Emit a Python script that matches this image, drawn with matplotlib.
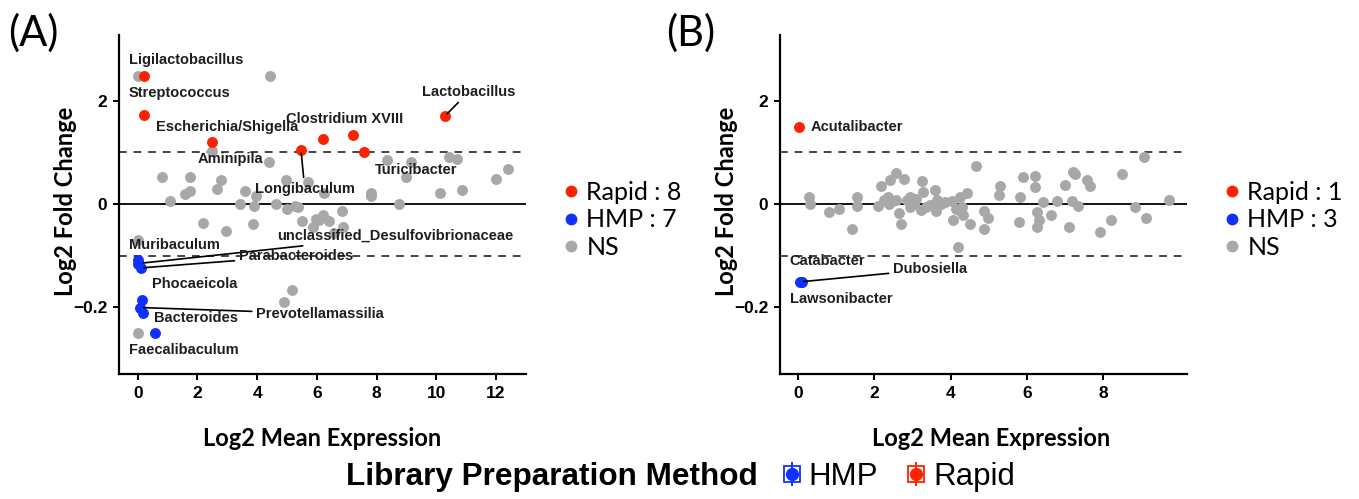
import matplotlib
matplotlib.use("Agg")
import matplotlib.pyplot as plt
from matplotlib.lines import Line2D
from matplotlib.legend_handler import HandlerTuple

W, H = 1359, 499
RED = "#FF2200"; BLUE = "#1030FF"; GRAY = "#A8A8A8"; TXT = "#1E1E1E"
CAL = ["Lato", "DejaVu Sans"]
ARI = ["Liberation Sans", "DejaVu Sans"]

# ---- panel A data (log2 mean expression, log2 fold change) ----
a_ns_x = [0.0, 4.43, 2.47, 4.4, 0.82, 1.75, 2.79, 2.67, 1.07, 1.57, 1.75, 3.58, 3.42, 3.9,
          3.96, 4.62, 4.95, 5.0, 5.28, 5.72, 6.25, 5.5, 5.87, 6.07, 6.22, 6.42, 6.58, 6.84,
          6.88, 2.19, 2.97, 3.86, 7.8, 7.83, 8.34, 9.16, 8.99, 8.77, 10.12, 10.43, 10.69,
          10.87, 12.02, 12.42, 0.0, 0.0, 5.17, 4.89, 5.36, 5.97]
a_ns_y = [2.49, 2.49, 1.02, 0.82, 0.53, 0.53, 0.46, 0.30, 0.06, 0.19, 0.26, 0.26, 0.0, -0.03,
          0.16, 0.0, 0.46, -0.1, -0.03, 0.42, 0.21, -0.33, -0.44, -0.32, -0.21, -0.33, -0.57,
          -0.14, -0.44, -0.37, -0.52, -0.39, 0.22, 0.16, 0.86, 0.81, 0.52, 0.0, 0.21, 0.92,
          0.87, 0.27, 0.49, 0.68, -0.7, -2.51, -1.66, -1.9, -0.05, -0.3]
a_rapid_x = [0.2, 0.2, 2.47, 5.47, 6.22, 7.2, 7.57, 10.3]
a_rapid_y = [2.49, 1.73, 1.2, 1.04, 1.26, 1.34, 1.0, 1.71]
a_hmp_x = [0.02, 0.0, 0.12, 0.14, 0.08, 0.17, 0.58]
a_hmp_y = [-1.09, -1.17, -1.24, -1.86, -2.01, -2.12, -2.51]

# ---- panel B data ----
b_ns_x = [0.29, 0.33, 0.81, 1.07, 1.42, 1.56, 1.56, 2.11, 2.18, 2.35, 2.42, 2.56, 2.77, 2.38,
          2.65, 2.69, 2.58, 2.87, 2.93, 3.04, 3.24, 3.28, 3.22, 3.37, 3.58, 3.65, 3.62, 3.76,
          4.03, 4.07, 4.2, 4.26, 4.3, 4.32, 4.44, 4.5, 4.67, 4.88, 4.98, 4.87, 5.27, 5.3,
          5.8, 5.83, 5.89, 6.2, 6.21, 6.27, 6.32, 6.27, 6.41, 6.62, 6.79, 6.99, 7.11, 7.18,
          7.2, 7.26, 7.34, 7.57, 7.64, 7.92, 8.19, 8.5, 8.83, 9.06, 9.12, 9.72,
          2.47, 3.1, 3.45, 4.15, 2.25, 2.95, 3.85, 4.22]
b_ns_y = [0.13, 0.0, -0.16, -0.10, -0.48, 0.13, -0.04, -0.04, 0.35, 0.14, 0.47, 0.6, 0.49, 0.0,
          -0.18, -0.39, 0.08, 0.08, 0.14, 0.0, 0.45, 0.23, -0.12, -0.05, 0.27, 0.08, -0.13, 0.0,
          0.06, -0.31, -0.83, 0.14, -0.05, -0.21, 0.21, -0.38, 0.74, -0.13, -0.28, -0.49, 0.18,
          0.34, -0.34, 0.13, 0.53, 0.55, 0.32, -0.15, -0.31, -0.44, 0.03, -0.21, 0.06, 0.37,
          -0.44, 0.05, 0.63, 0.58, -0.03, 0.47, 0.35, -0.54, -0.32, 0.58, -0.05, 0.92, -0.28,
          0.08, 0.05, 0.1, -0.02, -0.1, 0.08, -0.06, 0.04, -0.12]
b_rapid_x = [0.03]
b_rapid_y = [1.5]
b_hmp_x = [0.06, 0.08, 0.10]
b_hmp_y = [-1.51, -1.51, -1.51]

# genus labels: (name, point it refers to or None, label position)
a_labels = [("Ligilactobacillus", None, (-0.31, 2.8)),
            ("Streptococcus", None, (-0.31, 2.16)),
            ("Escherichia/Shigella", None, (0.6, 1.5)),
            ("Clostridium XVIII", None, (4.95, 1.64)),
            ("Lactobacillus", (10.3, 1.71), (9.53, 2.18)),
            ("Aminipila", None, (1.99, 0.87)),
            ("Turicibacter", None, (7.93, 0.66)),
            ("Longibaculum", (5.47, 1.04), (3.92, 0.3)),
            ("unclassified_Desulfovibrionaceae", (0.1, -1.15), (4.67, -0.62)),
            ("Muribaculum", None, (-0.31, -0.8)),
            ("Parabacteroides", (0.12, -1.24), (3.38, -1.01)),
            ("Phocaeicola", None, (0.48, -1.56)),
            ("Prevotellamassilia", (0.1, -2.01), (3.96, -2.13)),
            ("Bacteroides", None, (0.54, -2.21)),
            ("Faecalibaculum", None, (-0.31, -2.84))]
b_labels = [("Acutalibacter", None, (0.34, 1.49)),
            ("Catabacter", None, (-0.21, -1.11)),
            ("Dubosiella", (0.08, -1.51), (2.49, -1.27)),
            ("Lawsonibacter", None, (-0.21, -1.85))]

a_xticks = [0, 2, 4, 6, 8, 10, 12]
b_xticks = [0, 2, 4, 6, 8]
y_ticks = [-2, 0, 2]
y_ticklabels = ["\u22120.2", "0", "2"]

fig = plt.figure(figsize=(W / 100, H / 100), dpi=100)


def panel(rect, xlim, xticks, ns, rapid, hmp, labels, n_rapid, n_hmp, letter, letter_x, xlab_x):
    ax = fig.add_axes(rect)
    ax.scatter(*ns, s=62, color=GRAY, linewidths=0, zorder=3)
    ax.scatter(*rapid, s=62, color=RED, linewidths=0, zorder=4)
    ax.scatter(*hmp, s=62, color=BLUE, linewidths=0, zorder=4)
    ax.axhline(0, color="black", lw=1.3, zorder=2)
    for yy in (-1, 1):
        ax.axhline(yy, color="#444444", lw=1.4, dashes=(4, 3.5), zorder=2)
    for name, pt, pos in labels:
        if pt is None:
            ax.text(pos[0], pos[1], name, ha="left", va="center", fontsize=10.5,
                    fontweight="bold", color=TXT, family=ARI, zorder=5)
        else:
            ax.annotate(name, xy=pt, xytext=pos, ha="left", va="center", fontsize=10.5,
                        fontweight="bold", color=TXT, family=ARI, zorder=5,
                        arrowprops=dict(arrowstyle="-", color="black", lw=1.2,
                                        shrinkA=1, shrinkB=2))
    ax.set_xlim(*xlim)
    ax.set_ylim(-3.3, 3.28)
    ax.set_xticks(xticks)
    ax.set_yticks(y_ticks)
    ax.set_yticklabels(y_ticklabels)
    for s in ("top", "right"):
        ax.spines[s].set_visible(False)
    for s in ("left", "bottom"):
        ax.spines[s].set_linewidth(1.6)
    ax.tick_params(width=1.4, length=4.5, labelsize=12.5, pad=4)
    for t in ax.get_xticklabels() + ax.get_yticklabels():
        t.set_fontweight("bold"); t.set_family(ARI)
    ax.set_xlabel("Log2 Mean Expression", fontsize=17, fontweight="bold", family=CAL)
    ax.set_ylabel("Log2 Fold Change", fontsize=17, fontweight="bold", family=CAL)
    ax.xaxis.set_label_coords(xlab_x, -0.156)
    ax.yaxis.set_label_coords(-0.104, 0.51)
    handles = [Line2D([], [], ls="", marker="o", ms=7.5, color=c) for c in (RED, BLUE, GRAY)]
    ax.legend(handles, [f"Rapid : {n_rapid}", f"HMP : {n_hmp}", "NS"], loc="center left",
              bbox_to_anchor=(1.093, 0.455), frameon=False, borderpad=0, borderaxespad=0,
              handlelength=0.6, handletextpad=0.3, labelspacing=0.18,
              prop=dict(family=CAL, size=18))
    fig.text(letter_x / W, 1 - 33 / H, letter, fontsize=30, family=CAL, va="center", ha="left")
    return ax


ax_pos_y = 1 - 374 / H
panel([119 / W, ax_pos_y, 407 / W, 339 / H], (-0.63, 13.01), a_xticks,
      (a_ns_x, a_ns_y), (a_rapid_x, a_rapid_y), (a_hmp_x, a_hmp_y), a_labels,
      len(a_rapid_x), len(a_hmp_x), "(A)", 8, 0.5)
panel([780 / W, ax_pos_y, 407 / W, 339 / H], (-0.465, 10.19), b_xticks,
      (b_ns_x, b_ns_y), (b_rapid_x, b_rapid_y), (b_hmp_x, b_hmp_y), b_labels,
      len(b_rapid_x), len(b_hmp_x), "(B)", 666, 0.518)

# bottom legend: library preparation method
fig.text(346 / W, 1 - 477 / H, "Library Preparation Method", fontsize=22.7, fontweight="bold",
         family=ARI, ha="left", va="center")


def key(c):
    return (Line2D([], [], ls="", marker="s", ms=12, mfc="none", mec=c, mew=1.3),
            Line2D([], [], ls="", marker="o", ms=8.5, color=c),
            Line2D([], [], ls="", marker="|", ms=17, mew=1.4, color=c))


fig.legend([key(BLUE), key(RED)], ["HMP", "Rapid"], ncol=2, loc="center left",
           bbox_to_anchor=(779 / W, 1 - 477 / H), frameon=False, borderpad=0, borderaxespad=0,
           handlelength=0.8, handletextpad=0.15, columnspacing=0.8,
           handler_map={tuple: HandlerTuple(ndivide=1)},
           prop=dict(family=ARI, size=22.5))

fig.savefig("out.png", dpi=100)
